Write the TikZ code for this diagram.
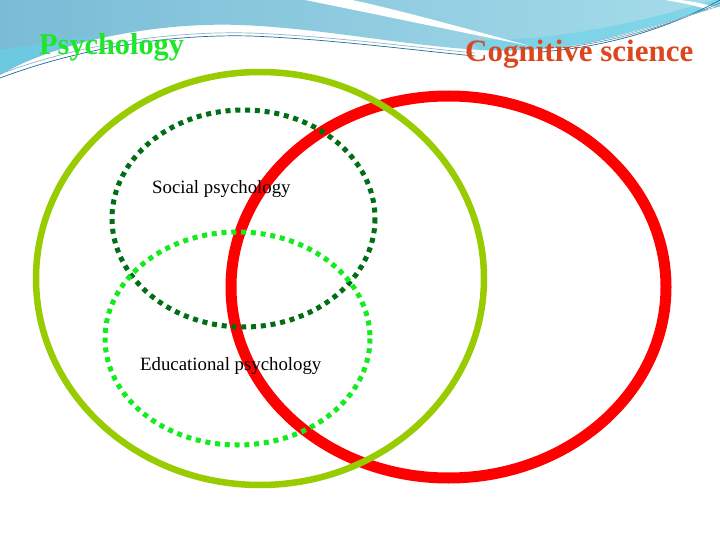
\documentclass[tikz,border=0pt]{standalone}
\usepackage{fontspec}
\setmainfont{Liberation Serif}
\definecolor{ringgreen}{RGB}{153,204,0}
\definecolor{ringred}{RGB}{255,0,0}
\definecolor{dotdark}{RGB}{0,110,20}
\definecolor{dotlight}{RGB}{20,235,30}
\definecolor{titlegreen}{RGB}{30,230,40}
\definecolor{titlered}{RGB}{220,70,30}
\definecolor{bgblueA}{RGB}{122,188,214}
\definecolor{bgblueB}{RGB}{165,220,234}
\definecolor{bgcyan}{RGB}{100,210,232}
\definecolor{tealline}{RGB}{30,110,150}
\tikzset{
  ringA/.style={draw=ringgreen, line width=6.5pt},
  ringB/.style={draw=ringred, line width=11pt},
  dotring/.style={line width=5pt, dash pattern=on 5pt off 4.8pt},
  title/.style={inner sep=0pt, anchor=base west, font=\bfseries},
  label/.style={inner sep=0pt, anchor=base west, font=\fontsize{18.8}{20}\selectfont, text=black},
  swline/.style={draw=tealline, line width=0.7pt}
}
\begin{document}
\begin{tikzpicture}[x=1pt,y=-1pt]
\useasboundingbox (0,0) rectangle (720,540);
\fill[white] (0,0) rectangle (720,540);
% background swoosh
\shade[left color=bgblueA, right color=bgblueB]
  (0,0) -- (720,0) -- (720,6)
  .. controls (690,16) and (640,30) .. (600,40)
  .. controls (570,48) and (520,52) .. (480,50)
  .. controls (400,45) and (320,28) .. (240,25)
  .. controls (160,22) and (60,40) .. (0,75) -- cycle;
\fill[bgcyan, opacity=0.6]
  (0,75) .. controls (40,52) and (70,42) .. (100,35) -- (0,50) -- cycle;
\fill[bgcyan, opacity=0.55]
  (720,6) .. controls (690,16) and (640,30) .. (600,40)
  .. controls (570,48) and (520,52) .. (480,50)
  -- (470,40) .. controls (560,42) and (650,20) .. (720,-2) -- cycle;
\fill[white]
  (305,0) .. controls (380,15) and (450,30) .. (530,46)
  .. controls (450,24) and (390,8) .. (352,0) -- cycle;
\fill[white]
  (665,0) .. controls (690,4) and (705,8) .. (720,14) -- (720,8)
  .. controls (705,4) and (690,1) .. (680,0) -- cycle;
\draw[swline] (0,78) .. controls (80,48) and (170,34) .. (250,36)
  .. controls (330,39) and (420,51) .. (475,56);
\draw[swline, draw=tealline!50] (0,74) .. controls (80,44) and (170,31) .. (250,33)
  .. controls (330,36) and (420,48) .. (475,53);
\draw[swline] (540,52) .. controls (620,46) and (680,22) .. (720,0);
\draw[swline, draw=tealline!70] (560,48) .. controls (630,40) and (685,18) .. (720,3);
\draw[swline, draw=tealline!50] (580,44) .. controls (640,34) and (690,14) .. (720,6);
% titles
\node[title, text=titlegreen, font=\bfseries\fontsize{30.3}{32}\selectfont] (psy) at (39,55) {Psychology};
\node[title, text=titlered, font=\bfseries\fontsize{31}{33}\selectfont] (cog) at (465,62) {Cognitive science};
% rings
\draw[ringB] (448.5,287) ellipse [x radius=217.5, y radius=191];
\draw[ringA] (260,278.5) ellipse [x radius=224, y radius=206.5];
\draw[dotring, draw=dotdark] (243.5,218.5) ellipse [x radius=131.5, y radius=108.5];
\draw[dotring, draw=dotlight] (237.5,338.5) ellipse [x radius=132.5, y radius=106.5];
% labels
\node[label] (soc) at (152,194) {Social psychology};
\node[label] (edu) at (140,370) {Educational psychology};
\end{tikzpicture}
\end{document}
